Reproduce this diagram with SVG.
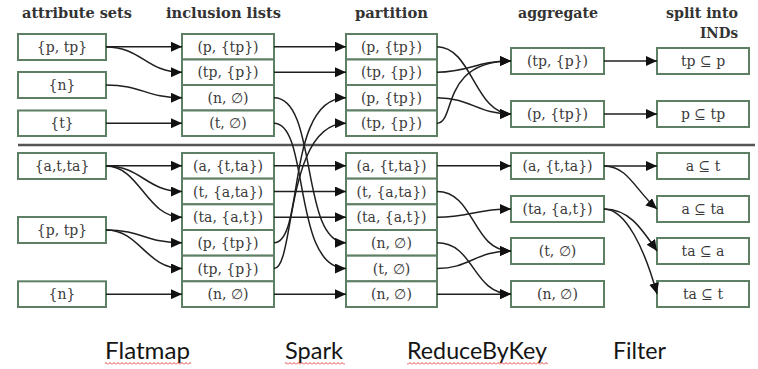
<svg xmlns="http://www.w3.org/2000/svg" width="758" height="369" viewBox="0 0 758 369">
  <style>
    .box { fill: #ffffff; stroke: #5d7f63; stroke-width: 2; }
    .lbl { font-family: "DejaVu Serif", "Liberation Serif", serif; font-size: 14px; fill: #3b3b3b; text-anchor: middle; }
    .hdr { font-family: "DejaVu Serif", "Liberation Serif", serif; font-weight: bold; font-size: 15px; fill: #333333; }
    .edge { fill: none; stroke: #1f1f1f; stroke-width: 1.5; marker-end: url(#arrow); }
    .op { font-family: Lato, "Open Sans", sans-serif; font-size: 24px; fill: #151515; }
    .wavy { fill: url(#squiggle); }
  </style>
  <defs>
    <marker id="arrow" viewBox="0 0 11 10" refX="11" refY="5" markerWidth="11" markerHeight="10" markerUnits="userSpaceOnUse" orient="auto">
      <path d="M0,0 L11,5 L0,10 z" fill="#111111"/>
    </marker>
    <pattern id="squiggle" x="0" y="362" width="4" height="3" patternUnits="userSpaceOnUse">
      <path d="M0,2.5 L2,0.5 L4,2.5" fill="none" stroke="#e0302a" stroke-width="0.9"/>
    </pattern>
  </defs>

  <!-- column headers -->
  <g id="headers">
    <text class="hdr" x="22" y="18" textLength="110" lengthAdjust="spacingAndGlyphs">attribute sets</text>
    <text class="hdr" x="166" y="18" textLength="115" lengthAdjust="spacingAndGlyphs">inclusion lists</text>
    <text class="hdr" x="355" y="18" textLength="73" lengthAdjust="spacingAndGlyphs">partition</text>
    <text class="hdr" x="518" y="18" textLength="80" lengthAdjust="spacingAndGlyphs">aggregate</text>
    <text class="hdr" x="666" y="18" textLength="72" lengthAdjust="spacingAndGlyphs">split into</text>
    <text class="hdr" x="700" y="38" textLength="38" lengthAdjust="spacingAndGlyphs">INDs</text>
  </g>

  <!-- divider between the two examples -->
  <line x1="18" y1="145" x2="755" y2="145" stroke="#555555" stroke-width="2.5"/>

  <!-- ===== upper example ===== -->
  <g id="attr-top-ptp"><rect class="box" x="18" y="34" width="88" height="26"/><text class="lbl" x="62" y="52">{p, tp}</text></g>
  <g id="attr-top-n"><rect class="box" x="18" y="72" width="88" height="26"/><text class="lbl" x="62" y="90">{n}</text></g>
  <g id="attr-top-t"><rect class="box" x="18" y="110.5" width="88" height="25.5"/><text class="lbl" x="62" y="128.25">{t}</text></g>

  <g id="incl-top-1"><rect class="box" x="182" y="34" width="92" height="25.5"/><text class="lbl" x="228" y="51.75">(p, {tp})</text></g>
  <g id="incl-top-2"><rect class="box" x="182" y="59.5" width="92" height="25.5"/><text class="lbl" x="228" y="77.25">(tp, {p})</text></g>
  <g id="incl-top-3"><rect class="box" x="182" y="85" width="92" height="25.5"/><text class="lbl" x="228" y="102.75">(n, ∅)</text></g>
  <g id="incl-top-4"><rect class="box" x="182" y="110.5" width="92" height="25.5"/><text class="lbl" x="228" y="128.25">(t, ∅)</text></g>

  <g id="part-top-1"><rect class="box" x="346" y="34" width="91" height="25.5"/><text class="lbl" x="391.5" y="51.75">(p, {tp})</text></g>
  <g id="part-top-2"><rect class="box" x="346" y="59.5" width="91" height="25.5"/><text class="lbl" x="391.5" y="77.25">(tp, {p})</text></g>
  <g id="part-top-3"><rect class="box" x="346" y="85" width="91" height="25.5"/><text class="lbl" x="391.5" y="102.75">(p, {tp})</text></g>
  <g id="part-top-4"><rect class="box" x="346" y="110.5" width="91" height="25.5"/><text class="lbl" x="391.5" y="128.25">(tp, {p})</text></g>

  <g id="agg-top-tp"><rect class="box" x="511" y="48" width="93" height="26"/><text class="lbl" x="557.5" y="66">(tp, {p})</text></g>
  <g id="agg-top-p"><rect class="box" x="511" y="101" width="93" height="26"/><text class="lbl" x="557.5" y="119">(p, {tp})</text></g>

  <g id="ind-tp-p"><rect class="box" x="657" y="48" width="92" height="26"/><text class="lbl" x="703" y="66">tp ⊆ p</text></g>
  <g id="ind-p-tp"><rect class="box" x="657" y="101" width="92" height="26"/><text class="lbl" x="703" y="119">p ⊆ tp</text></g>

  <!-- ===== lower example ===== -->
  <g id="attr-bot-atta"><rect class="box" x="18" y="153" width="88" height="26"/><text class="lbl" x="62" y="171">{a,t,ta}</text></g>
  <g id="attr-bot-ptp"><rect class="box" x="18" y="217" width="88" height="26"/><text class="lbl" x="62" y="235">{p, tp}</text></g>
  <g id="attr-bot-n"><rect class="box" x="18" y="281.33" width="88" height="25.67"/><text class="lbl" x="62" y="299.17">{n}</text></g>

  <g id="incl-bot-1"><rect class="box" x="182" y="153" width="92" height="25.67"/><text class="lbl" x="228" y="170.83">(a, {t,ta})</text></g>
  <g id="incl-bot-2"><rect class="box" x="182" y="178.67" width="92" height="25.67"/><text class="lbl" x="228" y="196.5">(t, {a,ta})</text></g>
  <g id="incl-bot-3"><rect class="box" x="182" y="204.33" width="92" height="25.67"/><text class="lbl" x="228" y="222.17">(ta, {a,t})</text></g>
  <g id="incl-bot-4"><rect class="box" x="182" y="230" width="92" height="25.67"/><text class="lbl" x="228" y="247.83">(p, {tp})</text></g>
  <g id="incl-bot-5"><rect class="box" x="182" y="255.67" width="92" height="25.67"/><text class="lbl" x="228" y="273.5">(tp, {p})</text></g>
  <g id="incl-bot-6"><rect class="box" x="182" y="281.33" width="92" height="25.67"/><text class="lbl" x="228" y="299.17">(n, ∅)</text></g>

  <g id="part-bot-1"><rect class="box" x="346" y="153" width="91" height="25.67"/><text class="lbl" x="391.5" y="170.83">(a, {t,ta})</text></g>
  <g id="part-bot-2"><rect class="box" x="346" y="178.67" width="91" height="25.67"/><text class="lbl" x="391.5" y="196.5">(t, {a,ta})</text></g>
  <g id="part-bot-3"><rect class="box" x="346" y="204.33" width="91" height="25.67"/><text class="lbl" x="391.5" y="222.17">(ta, {a,t})</text></g>
  <g id="part-bot-4"><rect class="box" x="346" y="230" width="91" height="25.67"/><text class="lbl" x="391.5" y="247.83">(n, ∅)</text></g>
  <g id="part-bot-5"><rect class="box" x="346" y="255.67" width="91" height="25.67"/><text class="lbl" x="391.5" y="273.5">(t, ∅)</text></g>
  <g id="part-bot-6"><rect class="box" x="346" y="281.33" width="91" height="25.67"/><text class="lbl" x="391.5" y="299.17">(n, ∅)</text></g>

  <g id="agg-bot-a"><rect class="box" x="511" y="153" width="93" height="26"/><text class="lbl" x="557.5" y="171">(a, {t,ta})</text></g>
  <g id="agg-bot-ta"><rect class="box" x="511" y="196" width="93" height="26"/><text class="lbl" x="557.5" y="214">(ta, {a,t})</text></g>
  <g id="agg-bot-t"><rect class="box" x="511" y="238" width="93" height="26"/><text class="lbl" x="557.5" y="256">(t, ∅)</text></g>
  <g id="agg-bot-n"><rect class="box" x="511" y="281" width="93" height="26"/><text class="lbl" x="557.5" y="299">(n, ∅)</text></g>

  <g id="ind-a-t"><rect class="box" x="657" y="153" width="92" height="26"/><text class="lbl" x="703" y="171">a ⊆ t</text></g>
  <g id="ind-a-ta"><rect class="box" x="657" y="196" width="92" height="26"/><text class="lbl" x="703" y="214">a ⊆ ta</text></g>
  <g id="ind-ta-a"><rect class="box" x="657" y="238" width="92" height="26"/><text class="lbl" x="703" y="256">ta ⊆ a</text></g>
  <g id="ind-ta-t"><rect class="box" x="657" y="281" width="92" height="26"/><text class="lbl" x="703" y="299">ta ⊆ t</text></g>

  <!-- connectors -->
  <g id="connectors">
    <!-- attribute sets to inclusion lists, upper -->
    <path class="edge" d="M106,46.75 H182"/>
    <path class="edge" d="M106,47 C142,47 146,72.25 182,72.25"/>
    <path class="edge" d="M106,85 C142,85 146,97.75 182,97.75"/>
    <path class="edge" d="M106,123.25 H182"/>
    <!-- attribute sets to inclusion lists, lower -->
    <path class="edge" d="M106,165.83 H182"/>
    <path class="edge" d="M106,166 C142,166 146,191.5 182,191.5"/>
    <path class="edge" d="M106,166 C140,166 146,217.17 182,217.17"/>
    <path class="edge" d="M106,230 C142,230 146,242.83 182,242.83"/>
    <path class="edge" d="M106,230 C140,230 146,268.5 182,268.5"/>
    <path class="edge" d="M106,294.17 H182"/>

    <!-- shuffle into partitions -->
    <path class="edge" d="M274,46.75 H346"/>
    <path class="edge" d="M274,72.25 H346"/>
    <path class="edge" d="M274,97.75 C318,97.75 300,242.83 346,242.83"/>
    <path class="edge" d="M274,123.25 C310,123.25 292,268.5 346,268.5"/>
    <path class="edge" d="M274,242.83 C305,242.83 285,97.75 346,97.75"/>
    <path class="edge" d="M274,268.5 C295,268.5 285,123.25 346,123.25"/>
    <path class="edge" d="M274,165.83 H346"/>
    <path class="edge" d="M274,191.5 H346"/>
    <path class="edge" d="M274,217.17 H346"/>
    <path class="edge" d="M274,294.17 H346"/>

    <!-- partitions to aggregates, upper -->
    <path class="edge" d="M437,46.75 C472,46.75 475,114 511,114"/>
    <path class="edge" d="M437,72.25 C470,72.25 475,61 511,61"/>
    <path class="edge" d="M437,97.75 C470,97.75 478,114 511,114"/>
    <path class="edge" d="M437,123.25 C456,123.25 440,61 511,61"/>
    <!-- partitions to aggregates, lower -->
    <path class="edge" d="M437,165.83 H511"/>
    <path class="edge" d="M437,191.5 C475,191.5 472,251 511,251"/>
    <path class="edge" d="M437,217.17 C470,217.17 475,209 511,209"/>
    <path class="edge" d="M437,242.83 C475,242.83 472,294 511,294"/>
    <path class="edge" d="M437,268.5 C470,268.5 475,251 511,251"/>
    <path class="edge" d="M437,294.17 H511"/>

    <!-- aggregates to INDs -->
    <path class="edge" d="M604,61 H657"/>
    <path class="edge" d="M604,114 H657"/>
    <path class="edge" d="M604,166 H657"/>
    <path class="edge" d="M604,166 C628,166 635,190 657,209"/>
    <path class="edge" d="M604,209 C628,209 640,226 657,251"/>
    <path class="edge" d="M604,209 C626,209 645,250 657,294"/>
  </g>

  <!-- operator captions -->
  <g id="captions">
    <text class="op" x="105" y="359" textLength="85" lengthAdjust="spacingAndGlyphs">Flatmap</text>
    <text class="op" x="285" y="359" textLength="58" lengthAdjust="spacingAndGlyphs">Spark</text>
    <text class="op" x="407" y="359" textLength="140" lengthAdjust="spacingAndGlyphs">ReduceByKey</text>
    <text class="op" x="613" y="359" textLength="53" lengthAdjust="spacingAndGlyphs">Filter</text>
    <rect class="wavy" x="105" y="362" width="86" height="3"/>
    <rect class="wavy" x="285" y="362" width="60" height="3"/>
    <rect class="wavy" x="407" y="362" width="141" height="3"/>
  </g>
</svg>
